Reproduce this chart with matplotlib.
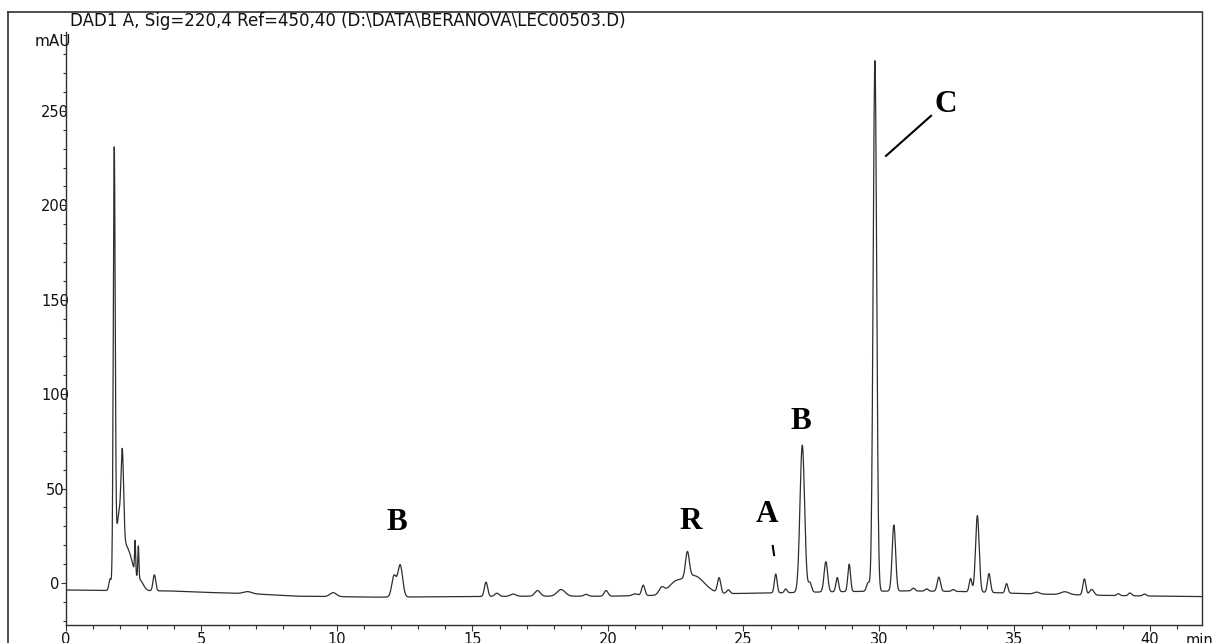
import numpy as np
import matplotlib
matplotlib.use("Agg")
import matplotlib.pyplot as plt
from matplotlib.lines import Line2D
from matplotlib.ticker import MultipleLocator

# --- chromatogram data -------------------------------------------------
# baseline drift (min, mAU)
baseline_t = [0.0, 1.4, 3.8, 5.0, 7.0, 8.5, 11.5, 14.0, 17.0, 20.0, 22.0,
              24.5, 26.0, 28.5, 31.0, 33.0, 35.7, 38.8, 41.92]
baseline_mau = [-3.7, -4.0, -4.2, -4.9, -5.8, -7.0, -7.5, -7.3, -7.0, -7.0,
                -6.5, -5.6, -5.3, -4.6, -4.2, -4.5, -5.8, -6.7, -7.2]

# peak table: retention time (min), height above baseline (mAU), sigma (min)
peak_rt = [1.62, 1.78, 1.95, 2.08, 2.25, 2.55, 2.67, 2.75, 3.26,
           6.70, 9.86, 12.10, 12.33, 15.50, 15.90, 16.50, 17.40, 18.27,
           19.19, 19.93, 21.00, 21.30, 21.98, 22.45, 22.93, 23.15,
           24.10, 24.44, 26.19, 26.56, 27.17, 27.45, 28.04, 28.46, 28.90,
           29.60, 29.85, 30.55, 31.27, 31.76, 32.21, 32.74, 33.38, 33.63,
           34.06, 34.71, 35.82, 36.86, 37.58, 37.85, 38.83, 39.26, 39.80]
peak_height = [5.0, 221.0, 32.0, 41.0, 22.0, 17.0, 17.0, 4.0, 8.5,
               1.1, 2.1, 11.0, 17.0, 7.6, 1.7, 1.2, 3.0, 3.5,
               1.0, 3.0, 1.0, 5.5, 3.5, 5.0, 13.5, 10.0,
               8.0, 2.0, 10.0, 2.0, 78.0, 5.0, 16.0, 7.5, 14.5,
               4.5, 281.0, 35.0, 1.5, 1.2, 7.5, 1.0, 7.0, 40.5,
               10.0, 5.0, 1.0, 1.5, 8.5, 3.0, 1.0, 1.5, 1.0]
peak_sigma = [0.04, 0.035, 0.12, 0.045, 0.22, 0.02, 0.02, 0.12, 0.05,
              0.15, 0.12, 0.08, 0.09, 0.06, 0.08, 0.10, 0.10, 0.15,
              0.08, 0.07, 0.10, 0.06, 0.10, 0.25, 0.07, 0.40,
              0.06, 0.06, 0.05, 0.05, 0.085, 0.06, 0.065, 0.05, 0.05,
              0.06, 0.065, 0.063, 0.06, 0.06, 0.06, 0.06, 0.05, 0.066,
              0.055, 0.05, 0.10, 0.15, 0.055, 0.08, 0.06, 0.06, 0.06]

# peak annotations: letter, time (min), baseline of the letter (mAU)
label_text = ["B", "R", "A", "B", "C"]
label_t = [12.20, 23.06, 25.87, 27.13, 32.45]
label_y = [28.1, 28.6, 32.5, 81.4, 249.2]

x_max = 41.92
y_min, y_max = -22.25, 291.8
x_major = [0, 5, 10, 15, 20, 25, 30, 35, 40]
y_major = [0, 50, 100, 150, 200, 250]

title = r"DAD1 A, Sig=220,4 Ref=450,40 (D:\DATA\BERANOVA\LEC00503.D)"

# --- build the trace ---------------------------------------------------
t = np.linspace(0.0, x_max, 14000)
signal = np.interp(t, baseline_t, baseline_mau)
for rt, h, s in zip(peak_rt, peak_height, peak_sigma):
    signal = signal + h * np.exp(-0.5 * ((t - rt) / s) ** 2)

# --- figure ------------------------------------------------------------
W, H = 1218, 643
fig = plt.figure(figsize=(W / 100, H / 100), dpi=100)
fig.patch.set_facecolor("white")

ax_l, ax_r, ax_t, ax_b = 66, 1202, 32, 625
ax = fig.add_axes([ax_l / W, (H - ax_b) / H, (ax_r - ax_l) / W, (ax_b - ax_t) / H])
ax.plot(t, signal, color="#2e2e2e", lw=0.9)
ax.set_xlim(0, x_max)
ax.set_ylim(y_min, y_max)

frame_col = "#303030"
text_col = "#111111"
sans = ["DejaVu Sans"]

for side in ("top", "right"):
    ax.spines[side].set_visible(False)
for side in ("left", "bottom"):
    ax.spines[side].set_color(frame_col)
    ax.spines[side].set_linewidth(1.0)

ax.set_xticks(x_major)
ax.xaxis.set_minor_locator(MultipleLocator(1))
ax.set_yticks(y_major)
ax.yaxis.set_minor_locator(MultipleLocator(10))

tick_font = dict(family=sans, size=10.5, color=text_col)
ax.set_xticklabels([str(v) for v in x_major], **tick_font)
ax.set_yticklabels([str(v) for v in y_major], **tick_font)
for lab in ax.get_yticklabels():
    lab.set_horizontalalignment("center")

ax.tick_params(axis="x", which="major", length=4.3, width=0.8, color=frame_col, pad=0.8)
ax.tick_params(axis="x", which="minor", length=2.9, width=0.8, color=frame_col)
ax.tick_params(axis="y", which="major", length=3.6, width=0.8, color=frame_col, pad=4.3)
ax.tick_params(axis="y", which="minor", length=2.5, width=0.8, color=frame_col)

# outer frame: top, left and right edges
fig.add_artist(Line2D([8 / W, ax_r / W], [(H - 12) / H, (H - 12) / H],
                      transform=fig.transFigure, color=frame_col, lw=1.2))
fig.add_artist(Line2D([8 / W, 8 / W], [(H - 12) / H, -0.05],
                      transform=fig.transFigure, color=frame_col, lw=1.2))
fig.add_artist(Line2D([ax_r / W, ax_r / W], [(H - 12) / H, (H - ax_b) / H],
                      transform=fig.transFigure, color=frame_col, lw=1.0))

# header and axis units
fig.text(70 / W, (H - 26) / H, title, ha="left", va="baseline",
         family=sans, size=12, color=text_col)
fig.text(53 / W, (H - 41) / H, "mAU", ha="center", va="center",
         family=sans, size=11, color=text_col)
ax.annotate("min", xy=(1, 0), xycoords="axes fraction", xytext=(-1.5, -5.6),
            textcoords="offset points", ha="center", va="top",
            family=sans, size=10.5, color=text_col)

# peak letters and pointer marks
for txt, lt, ly in zip(label_text, label_t, label_y):
    ax.text(lt, ly, txt, ha="center", va="baseline", fontweight="bold",
            family=["Liberation Serif", "DejaVu Serif"], size=22.5, color="black")
ax.plot([26.08, 26.13], [19.6, 14.8], color="black", lw=1.5)
ax.plot([30.26, 31.92], [226.2, 247.4], color="black", lw=1.5)

fig.savefig("out.png", dpi=100, facecolor="white")
